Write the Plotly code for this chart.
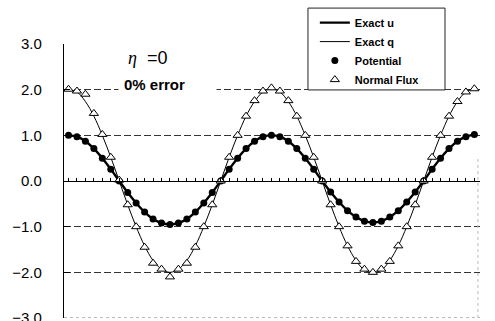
import plotly.graph_objects as go

# angle (degrees) of each sampled point
x_deg = [0, 15, 30, 45, 60, 75, 90, 105, 120, 135, 150, 165, 180,
         195, 210, 225, 240, 255, 270, 285, 300, 315, 330, 345, 360,
         375, 390, 405, 420, 435, 450, 465, 480, 495, 510, 525, 540,
         555, 570, 585, 600, 615, 630, 645, 660, 675, 690, 705, 720]

exact_u = [1.00, 0.97, 0.87, 0.71, 0.50, 0.26, 0.00, -0.25, -0.48, -0.68, -0.83, -0.92, -0.95,
           -0.92, -0.83, -0.68, -0.48, -0.25, 0.00, 0.26, 0.50, 0.71, 0.87, 0.97, 1.00,
           0.97, 0.87, 0.71, 0.50, 0.26, 0.00, -0.24, -0.46, -0.65, -0.79, -0.88, -0.91,
           -0.88, -0.79, -0.65, -0.46, -0.24, 0.00, 0.26, 0.50, 0.71, 0.87, 0.97, 1.02]

exact_q = [2.00, 1.95, 1.74, 1.42, 1.00, 0.52, 0.00, -0.52, -1.00, -1.42, -1.74, -1.93, -2.00,
           -1.93, -1.74, -1.42, -1.00, -0.52, 0.00, 0.52, 1.00, 1.42, 1.74, 1.95, 2.02,
           1.95, 1.74, 1.42, 1.00, 0.52, 0.00, -0.52, -1.00, -1.42, -1.74, -1.95, -2.00,
           -1.95, -1.74, -1.42, -1.00, -0.52, 0.00, 0.52, 1.00, 1.42, 1.74, 1.95, 2.02]

potential = [1.00, 0.97, 0.87, 0.71, 0.50, 0.26, 0.00, -0.25, -0.48, -0.68, -0.83, -0.92, -0.95,
             -0.92, -0.83, -0.68, -0.48, -0.25, 0.00, 0.26, 0.50, 0.71, 0.87, 0.97, 1.00,
             0.97, 0.87, 0.71, 0.50, 0.26, 0.00, -0.24, -0.46, -0.65, -0.79, -0.88, -0.91,
             -0.88, -0.79, -0.65, -0.46, -0.24, 0.00, 0.26, 0.50, 0.71, 0.87, 0.97, 1.02]

normal_flux = [2.01, 1.97, 1.90, 1.48, 1.02, 0.52, 0.02, -0.52, -1.00, -1.45, -1.80, -1.93, -2.10,
               -1.93, -1.80, -1.45, -1.00, -0.52, 0.00, 0.52, 1.00, 1.42, 1.76, 1.97, 2.04,
               1.97, 1.76, 1.42, 1.00, 0.52, 0.00, -0.52, -1.00, -1.42, -1.76, -1.93, -2.00,
               -1.93, -1.76, -1.42, -1.00, -0.52, 0.00, 0.52, 1.00, 1.42, 1.74, 1.95, 2.02]

y_ticks = [-3, -2, -1, 0, 1, 2, 3]
y_tick_text = ["\u22123.0", "\u22122.0", "\u22121.0", "0.0", "1.0", "2.0", "3.0"]

FONT = "Liberation Sans, Arial, sans-serif"

fig = go.Figure()
fig.add_trace(go.Scatter(x=x_deg, y=exact_u, mode="lines", name="Exact u",
                         line=dict(color="black", width=2.4, shape="spline"),
                         legendgroup="a"))
fig.add_trace(go.Scatter(x=x_deg, y=exact_q, mode="lines", name="Exact q",
                         line=dict(color="black", width=1, shape="spline"),
                         legendgroup="b"))
fig.add_trace(go.Scatter(x=x_deg, y=potential, mode="markers", name="Potential",
                         marker=dict(symbol="circle", size=7, color="black"),
                         legendgroup="c"))
fig.add_trace(go.Scatter(x=x_deg, y=normal_flux, mode="markers", name="Normal Flux",
                         marker=dict(symbol="triangle-up", size=8, color="white",
                                     line=dict(color="black", width=1)),
                         legendgroup="d"))

fig.update_layout(
    width=495, height=321,
    margin=dict(l=64, r=15, t=44, b=3, pad=0, autoexpand=False),
    paper_bgcolor="white", plot_bgcolor="white",
    font=dict(family=FONT, color="black"),
    showlegend=True,
    legend=dict(x=0.603, y=1.131, xanchor="left", yanchor="top",
                bgcolor="rgba(0,0,0,0)", borderwidth=0,
                font=dict(size=11, weight="bold", family=FONT),
                traceorder="grouped", tracegroupgap=0, itemwidth=30),
    xaxis=dict(range=[-8, 730], anchor="free", position=0.5,
               showline=True, linecolor="black", linewidth=1,
               ticks="inside", ticklen=3, tickcolor="black", tickwidth=1,
               tick0=0, dtick=15, showticklabels=False, showgrid=False,
               zeroline=False, automargin=False),
    yaxis=dict(range=[-3, 3], tickvals=y_ticks, ticktext=y_tick_text,
               showline=True, linecolor="black", linewidth=1.2,
               ticks="inside", ticklen=6, tickcolor="black",
               ticklabelstandoff=18, ticklabeloverflow="allow", automargin=False,
               tickfont=dict(size=15, family=FONT),
               showgrid=True, gridcolor="#333", gridwidth=1, griddash="7px,3px",
               zeroline=False),
)

# legend frame
fig.add_shape(type="rect", xref="paper", yref="paper",
              x0=0.5865, x1=0.9159, y0=0.8324, y1=1.1311,
              line=dict(color="#222", width=1), fillcolor="white", layer="above")

# dotted bottom frame line and faint right edge
fig.add_shape(type="line", xref="paper", yref="y", x0=0, x1=1, y0=-3, y1=-3,
              line=dict(color="#777", width=1, dash="dot"))
fig.add_shape(type="line", xref="paper", yref="y", x0=0.995, x1=0.995, y0=-3, y1=0.5,
              line=dict(color="#bbb", width=1, dash="dot"))

fig.add_annotation(xref="paper", yref="paper", x=0.2, y=0.949,
                   xanchor="center", yanchor="middle",
                   text="<span style=\"font-family:'Liberation Serif', serif\"><i>\u03b7</i></span>&nbsp; =0",
                   showarrow=False,
                   font=dict(size=18, family=FONT))
fig.add_annotation(xref="paper", yref="paper", x=0.13, y=0.851,
                   xanchor="left", yanchor="middle",
                   text="<b>0% error</b>", showarrow=False, bgcolor="white",
                   width=87, align="left", borderpad=5,
                   font=dict(size=15, family=FONT))

fig.write_html("out.html")
